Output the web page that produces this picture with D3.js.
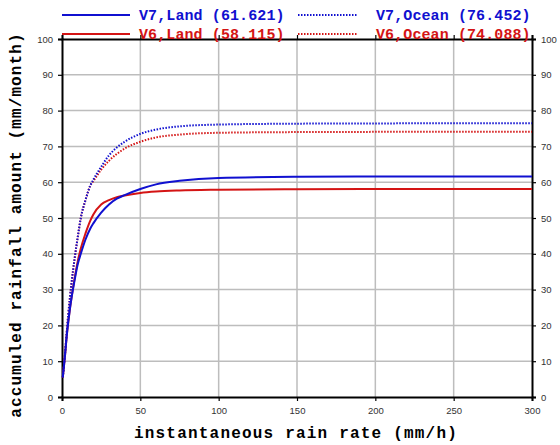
<!DOCTYPE html>
<html>
<head>
<meta charset="utf-8">
<script src="https://cdn.jsdelivr.net/npm/d3@7"></script>
<style>
  body { margin: 0; background: #fff; }
  svg { display: block; }
</style>
</head>
<body>
<svg width="560" height="445"></svg>
<script>
// rain rate (mm/h) sample points
const rate = [0.5, 2, 3, 4, 5, 6, 8, 10, 12, 15, 18, 20, 25, 30, 35, 40, 50, 60, 75, 100, 150, 200, 250, 300];

const v7Land  = [5.5, 12, 17, 21, 24.5, 27.5, 32.5, 37, 40, 44, 47, 48.5, 51.5, 53.8, 55.4, 56.4, 58.1, 59.4, 60.4, 61.2, 61.5, 61.58, 61.61, 61.621];
const v6Land  = [5.5, 12, 17, 21, 24.5, 27.5, 33, 37.8, 41.5, 45.7, 49.2, 51, 53.8, 55, 55.8, 56.3, 57, 57.4, 57.7, 57.9, 58.05, 58.1, 58.11, 58.115];
const v7Ocean = [5.5, 12.5, 18, 23, 27.5, 31.5, 38.5, 44.5, 50, 55, 59, 60.7, 64.3, 67.5, 69.7, 71.3, 73.5, 74.7, 75.6, 76.1, 76.35, 76.42, 76.45, 76.452];
const v6Ocean = [5.5, 12.5, 18, 23, 27.5, 31.5, 38.5, 44.5, 50, 55, 59, 60.3, 63.5, 66, 67.9, 69.4, 71.3, 72.5, 73.3, 73.8, 74.0, 74.06, 74.08, 74.088];

const xTicks = [0, 50, 100, 150, 200, 250, 300];
const yTicks = [0, 10, 20, 30, 40, 50, 60, 70, 80, 90, 100];

const series = [
  {name: "V6,Land (58.115)",  vals: v6Land,  color: "#d41414", dash: null},
  {name: "V6,Ocean (74.088)", vals: v6Ocean, color: "#d41414", dash: "1.5,1.5"},
  {name: "V7,Land (61.621)",  vals: v7Land,  color: "#1010d0", dash: null},
  {name: "V7,Ocean (76.452)", vals: v7Ocean, color: "#1010d0", dash: "1.5,1.5"}
];

const svg = d3.select("svg");
const pl = 62, pr = 532, pt = 39, pb = 397;

const x = d3.scaleLinear().domain([0, 300]).range([pl, pr]);
const y = d3.scaleLinear().domain([0, 100]).range([pb, pt]);

// grid
svg.append("g").selectAll("line").data(yTicks.slice(1, -1)).join("line")
  .attr("x1", pl).attr("x2", pr)
  .attr("y1", d => y(d)).attr("y2", d => y(d))
  .attr("stroke", "#bdbdbd").attr("stroke-width", 1.5);
svg.append("g").selectAll("line").data(xTicks.slice(1, -1)).join("line")
  .attr("y1", pt).attr("y2", pb)
  .attr("x1", d => x(d)).attr("x2", d => x(d))
  .attr("stroke", "#bdbdbd").attr("stroke-width", 1.5);

// axes with outward ticks
const tickFmt = d3.format("d");
const axL = svg.append("g").attr("transform", `translate(${pl},0)`)
  .call(d3.axisLeft(y).tickValues(yTicks).tickSize(4).tickPadding(5).tickFormat(tickFmt));
const axR = svg.append("g").attr("transform", `translate(${pr},0)`)
  .call(d3.axisRight(y).tickValues(yTicks).tickSize(4).tickPadding(5).tickFormat(tickFmt));
const axB = svg.append("g").attr("transform", `translate(0,${pb})`)
  .call(d3.axisBottom(x).tickValues(xTicks).tickSize(4).tickPadding(6).tickFormat(tickFmt));
const axT = svg.append("g").attr("transform", `translate(0,${pt})`)
  .call(d3.axisTop(x).tickValues(xTicks).tickSize(4).tickFormat(""));

[axL, axR, axB, axT].forEach(g => {
  g.select(".domain").attr("stroke", "#000").attr("stroke-width", 2);
  g.selectAll(".tick line").attr("stroke", "#000").attr("stroke-width", 1.2);
  g.selectAll(".tick text").attr("fill", "#333")
    .style("font-family", "'Liberation Sans', Arial, sans-serif").style("font-size", "9.5px");
});

// curves
const line = d3.line()
  .x((d, i) => x(rate[i]))
  .y(d => y(d))
  .curve(d3.curveMonotoneX);

svg.append("g").selectAll("path").data(series).join("path")
  .attr("d", d => line(d.vals))
  .attr("fill", "none")
  .attr("stroke", d => d.color)
  .attr("stroke-width", 2)
  .attr("stroke-dasharray", d => d.dash);

// legend
const mono = "'Liberation Mono', 'DejaVu Sans Mono', monospace";
const legend = [
  {s: series[2], lx: 62,  tx: 139, row: 0},
  {s: series[3], lx: 298, tx: 376, row: 0},
  {s: series[0], lx: 62,  tx: 139, row: 1},
  {s: series[1], lx: 298, tx: 376, row: 1}
];
const lg = svg.append("g");
legend.forEach(d => {
  const ly = d.row ? 34 : 15;
  lg.append("line")
    .attr("x1", d.lx).attr("x2", d.lx + (d.s.dash ? 59 : 68))
    .attr("y1", ly).attr("y2", ly)
    .attr("stroke", d.s.color).attr("stroke-width", 2)
    .attr("stroke-dasharray", d.s.dash);
  lg.append("text")
    .attr("x", d.tx).attr("y", ly + 5)
    .attr("fill", d.s.color)
    .style("font-family", mono).style("font-weight", "bold")
    .style("font-size", "15px").style("letter-spacing", "0.1px")
    .text(d.s.name);
});

// axis titles
svg.append("text")
  .attr("x", 296).attr("y", 438)
  .attr("text-anchor", "middle")
  .style("font-family", mono).style("font-weight", "bold")
  .style("font-size", "16px").style("letter-spacing", "1.2px")
  .text("instantaneous rain rate (mm/h)");

svg.append("text")
  .attr("transform", "translate(21,225) rotate(-90)")
  .attr("text-anchor", "middle")
  .style("font-family", mono).style("font-weight", "bold")
  .style("font-size", "16px").style("letter-spacing", "1.1px")
  .text("accumuled rainfall amount (mm/month)");
</script>
</body>
</html>
